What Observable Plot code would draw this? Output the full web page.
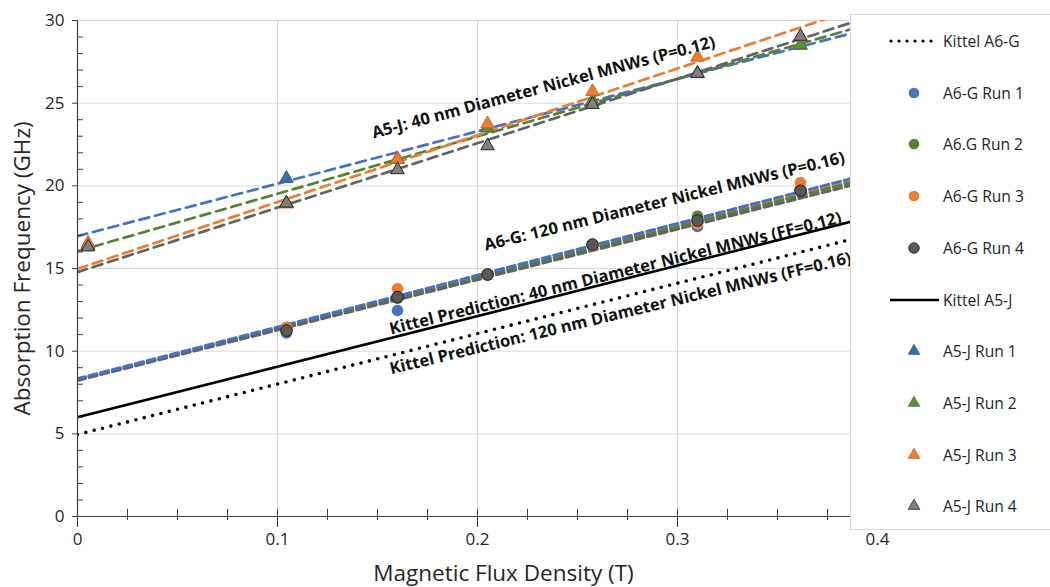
<!DOCTYPE html>
<html><head><meta charset="utf-8">
<script src="https://cdn.jsdelivr.net/npm/d3@7"></script>
<script src="https://cdn.jsdelivr.net/npm/@observablehq/plot@0.6"></script>
<style>
body{margin:0;background:#fff;font-family:"Open Sans",sans-serif;}
#wrap{position:relative;width:1050px;height:587px;overflow:hidden;background:#fff}
#legend{position:absolute;left:850px;top:14px;width:200px;height:516px;background:#fff;border:1px solid #d9d9d9;border-right:none;box-sizing:border-box}
.row{position:absolute;left:0;height:20px;display:flex;align-items:center}
.row span{font-size:15.6px;color:#262626;margin-left:3px;white-space:nowrap}
</style></head><body><div id="wrap"></div>
<script>
// ---- data ----
const xTicks = [0, 0.1, 0.2, 0.3, 0.4];
const yTicks = [0, 5, 10, 15, 20, 25, 30];

const a6gField = [0.1045, 0.16, 0.205, 0.2575, 0.31, 0.3615];
const a6gRun1 = [11.1, 12.46, 14.6, 16.35, 17.54, 19.75];
const a6gRun2 = [11.3, 13.2, 14.65, 16.4, 18.15, 19.8];
const a6gRun3 = [11.45, 13.77, 14.62, 16.38, 17.7, 20.2];
const a6gRun4 = [11.25, 13.27, 14.64, 16.45, 17.9, 19.7];

const a5jField = [0.0053, 0.1045, 0.16, 0.205, 0.2575, 0.31, 0.3615];
const a5jRun1 = [16.5, 20.45, 21.6, 23.5, 25.1, 26.78, 28.5];
const a5jRun2 = [16.4, 18.95, 21.64, 23.5, 25.17, 26.8, 28.53];
const a5jRun3 = [16.53, 18.9, 21.6, 23.75, 25.7, 27.78, 29.0];
const a5jRun4 = [16.3, 18.95, 20.97, 22.42, 24.92, 26.8, 29.04];

// trend lines / predictions: value at B=0 and at B=0.4
const lineField = [0, 0.4];
const a6gTrend1 = [8.33, 20.85];
const a6gTrend2 = [8.27, 20.6];
const a6gTrend3 = [8.3, 20.7];
const a6gTrend4 = [8.23, 20.43];
const a5jTrend1 = [16.96, 29.64];
const a5jTrend2 = [16.05, 29.93];
const a5jTrend3 = [14.98, 31.14];
const a5jTrend4 = [14.78, 30.38];
const kittelA6G = [4.96, 17.16];
const kittelA5J = [6.0, 18.24];

const noteText = [
  "A5-J: 40 nm Diameter Nickel MNWs (P=0.12)",
  "A6-G: 120 nm Diameter Nickel MNWs (P=0.16)",
  "Kittel Prediction: 40 nm Diameter Nickel MNWs (FF=0.12)",
  "Kittel Prediction: 120 nm Diameter Nickel MNWs (FF=0.16)"
];
const noteB = [0.233, 0.2935, 0.269, 0.2715];
const noteF = [25.95, 19.06, 14.70, 12.28];
const noteAngle = [-15, -13.8, -13.9, -13.6];

// ---- build tables ----
const pts = (field, vals, series) => field.map((b, i) => ({b, f: vals[i], series}));
const ln = (vals, series) => lineField.map((b, i) => ({b, f: vals[i], series}));

const a6gSeries = [
  {name: "A6-G Run 1", vals: a6gRun1, fill: "#4472C4", stroke: "none"},
  {name: "A6.G Run 2", vals: a6gRun2, fill: "#548235", stroke: "none"},
  {name: "A6-G Run 3", vals: a6gRun3, fill: "#ED7D31", stroke: "none"},
  {name: "A6-G Run 4", vals: a6gRun4, fill: "#595959", stroke: "#1a1a1a"}
];
const a5jSeries = [
  {name: "A5-J Run 1", vals: a5jRun1, fill: "#3A6EA8", stroke: "#2f5b8c"},
  {name: "A5-J Run 2", vals: a5jRun2, fill: "#5A8F3C", stroke: "#4a7a30"},
  {name: "A5-J Run 3", vals: a5jRun3, fill: "#ED7D31", stroke: "#d0651c"},
  {name: "A5-J Run 4", vals: a5jRun4, fill: "#7F7F7F", stroke: "#262626"}
];
const a6gTrends = [
  {vals: a6gTrend3, color: "#ED7D31"},
  {vals: a6gTrend2, color: "#548235"},
  {vals: a6gTrend4, color: "#636363"},
  {vals: a6gTrend1, color: "#4472C4"}
];
const a5jTrends = [
  {vals: a5jTrend1, color: "#4472C4"},
  {vals: a5jTrend2, color: "#548235"},
  {vals: a5jTrend3, color: "#ED7D31"},
  {vals: a5jTrend4, color: "#636363"}
];
const notes = noteText.map((t, i) => ({t, b: noteB[i], f: noteF[i], a: noteAngle[i]}));

const marks = [
  Plot.ruleY(yTicks.slice(1), {stroke: "#d9d9d9", strokeWidth: 1}),
  Plot.ruleX(xTicks.slice(1), {stroke: "#d9d9d9", strokeWidth: 1}),
  Plot.line(ln(kittelA6G, "k6"), {x: "b", y: "f", stroke: "#000", strokeWidth: 3.6, strokeDasharray: "0 8.6", strokeLinecap: "round", clip: true}),
  Plot.line(ln(kittelA5J, "k5"), {x: "b", y: "f", stroke: "#000", strokeWidth: 2.6, clip: true})
];
a6gTrends.forEach(t => marks.push(Plot.line(ln(t.vals, ""), {x: "b", y: "f", stroke: t.color, strokeWidth: 3, strokeDasharray: "8 4", clip: true})));
a5jTrends.forEach(t => marks.push(Plot.line(ln(t.vals, ""), {x: "b", y: "f", stroke: t.color, strokeWidth: 2.7, strokeDasharray: "10 6", clip: true})));
a6gSeries.forEach(s => marks.push(Plot.dot(pts(a6gField, s.vals, s.name), {x: "b", y: "f", r: 5.8, fill: s.fill, stroke: s.stroke, strokeWidth: 1})));
a5jSeries.forEach(s => marks.push(Plot.dot(pts(a5jField, s.vals, s.name), {x: "b", y: "f", r: 5, symbol: "triangle", fill: s.fill, stroke: s.stroke, strokeWidth: 1})));
marks.push(
  Plot.text(notes, {x: "b", y: "f", text: "t", rotate: "a", fontWeight: "bold", fontSize: 16.5, fill: "#111"}),
  Plot.ruleX([0], {stroke: "#404040", strokeWidth: 1.2}),
  Plot.ruleY([0], {stroke: "#404040", strokeWidth: 1.2}),
  Plot.tickY(d3.range(1, 30, 1).filter(v => v % 5 !== 0), {y: d => d, insetRight: 794, stroke: "#404040"}),
  Plot.tickX(d3.range(0, 17).map(i => i * 0.025), {x: d => d, insetTop: 489, insetBottom: -4, stroke: "#404040"}),
  Plot.axisY({ticks: yTicks, tickSize: 5, tickPadding: 8, label: null, fontSize: 17, stroke: "#404040"}),
  Plot.axisX({ticks: xTicks, tickSize: 11, tickPadding: 5, label: null, fontSize: 17, stroke: "#404040", tickFormat: d => String(d)}),
  Plot.text(["Magnetic Flux Density (T)"], {text: d => d, frameAnchor: "bottom", textAnchor: "middle", lineAnchor: "middle", dx: 26, dy: 57, fontSize: 22.5, fill: "#262626"}),
  Plot.text(["Absorption Frequency (GHz)"], {text: d => d, frameAnchor: "left", textAnchor: "middle", lineAnchor: "middle", rotate: -90, dx: -55, fontSize: 22.5, fill: "#262626"})
);

const chart = Plot.plot({
  width: 1050, height: 587,
  marginLeft: 77, marginRight: 173, marginTop: 20, marginBottom: 71,
  x: {domain: [0, 0.4]},
  y: {domain: [0, 30]},
  style: {fontFamily: "'Open Sans', sans-serif", color: "#262626", background: "#fff"},
  marks
});
const wrap = document.getElementById("wrap");
wrap.appendChild(chart);

// ---- legend ----
const legendItems = [
  {name: "Kittel A6-G", kind: "dotted"},
  ...a6gSeries.map(s => ({name: s.name, kind: "circle", fill: s.fill, stroke: s.stroke})),
  {name: "Kittel A5-J", kind: "solid"},
  ...a5jSeries.map(s => ({name: s.name, kind: "triangle", fill: s.fill, stroke: s.stroke}))
];
const legend = d3.select(wrap).append("div").attr("id", "legend");
legendItems.forEach((it, i) => {
  const row = legend.append("div").attr("class", "row").style("top", (16 + i * 51.7) + "px");
  const svg = row.append("svg").attr("width", 89).attr("height", 20);
  if (it.kind === "dotted") {
    svg.append("line").attr("x1", 40).attr("x2", 88).attr("y1", 10).attr("y2", 10)
      .attr("stroke", "#000").attr("stroke-width", 3.2).attr("stroke-dasharray", "0 8").attr("stroke-linecap", "round");
  } else if (it.kind === "solid") {
    svg.append("line").attr("x1", 39).attr("x2", 88).attr("y1", 10).attr("y2", 10)
      .attr("stroke", "#000").attr("stroke-width", 2.6);
  } else {
    const sym = it.kind === "circle" ? d3.symbolCircle : d3.symbolTriangle;
    const size = it.kind === "circle" ? Math.PI * 5.3 * 5.3 : Math.PI * 4.3 * 4.3;
    svg.append("path").attr("d", d3.symbol(sym, size)()).attr("transform", "translate(63,10)")
      .attr("fill", it.fill).attr("stroke", it.stroke === "none" ? "none" : it.stroke).attr("stroke-width", 0.8);
  }
  row.append("span").text(it.name);
});
</script></body></html>
